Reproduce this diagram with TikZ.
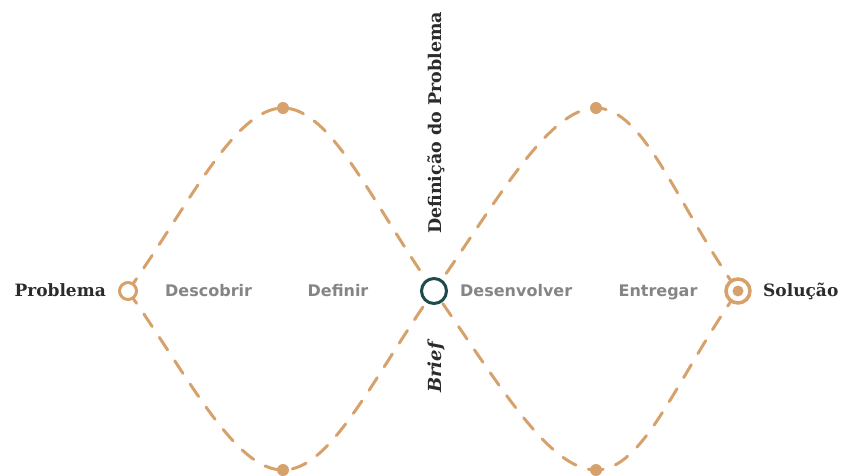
\documentclass[tikz,border=0pt]{standalone}
\usepackage{fontspec}
\setmainfont{DejaVu Serif}
\setsansfont{DejaVu Sans}
\usetikzlibrary{backgrounds}
\definecolor{ink}{HTML}{2B2B2B}
\definecolor{greytx}{HTML}{858585}
\definecolor{tan}{HTML}{D7A16B}
\definecolor{teal}{HTML}{1D4A4B}

\begin{document}
\begin{tikzpicture}[x=1pt,y=-1pt,
    path/.style={tan,line width=3pt,line cap=round,dash pattern=on 15pt off 13pt},
    phase/.style={text=greytx,inner sep=0pt,font=\sffamily\bfseries\fontsize{16}{18}\selectfont},
    ends/.style={text=ink,inner sep=0pt,font=\bfseries\fontsize{17}{19}\selectfont},
    peak/.style={circle,fill=tan,inner sep=0pt,minimum size=12pt}]
  \useasboundingbox (0,0) rectangle (851,475);

  % start, middle and end of the two diamonds
  \node[circle,draw=tan,line width=3pt,fill=white,inner sep=0pt,minimum size=17pt] (prob) at (128,291) {};
  \node[circle,draw=teal,line width=3pt,fill=white,inner sep=0pt,minimum size=25pt] (brief) at (434,291) {};
  \node[circle,draw=tan,line width=3.5pt,fill=white,inner sep=0pt,minimum size=24pt] (sol) at (738,291) {};
  \node[circle,fill=tan,inner sep=0pt,minimum size=11pt] at (sol) {};

  % tops and bottoms
  \node[peak] (topa) at (283,108) {};
  \node[peak] (bota) at (283,470) {};
  \node[peak] (topb) at (596,108) {};
  \node[peak] (botb) at (596,470) {};

  \begin{scope}[on background layer]
    \draw[path] (prob.center) .. controls +(62,-88) and +(-48,0) .. (topa.center)
                .. controls +(48,0) and +(-62,-88) .. (brief.center)
                .. controls +(62,88) and +(-48,0) .. (botb.center)
                .. controls +(48,0) and +(-62,88) .. (sol.center);
    \draw[path] (prob.center) .. controls +(62,88) and +(-48,0) .. (bota.center)
                .. controls +(48,0) and +(-62,88) .. (brief.center)
                .. controls +(62,-88) and +(-48,0) .. (topb.center)
                .. controls +(48,0) and +(-62,-88) .. (sol.center);
  \end{scope}

  \node[ends,anchor=base east] (lprob) at (106,296) {Problema};
  \node[ends,anchor=base west] (lsol) at (763,296) {Solução};

  \node[phase,anchor=base west] (disc) at (165,296) {Descobrir};
  \node[phase,anchor=base] (defi) at (338,296) {Definir};
  \node[phase,anchor=base west] (deve) at (460,296) {Desenvolver};
  \node[phase,anchor=base] (entr) at (658,296) {Entregar};

  \node[ends,rotate=90,anchor=base west,font=\bfseries\fontsize{17.5}{20}\selectfont] (defp) at (441,234) {Definição do Problema};
  \node[ends,rotate=90,anchor=base west,font=\bfseries\itshape\fontsize{18}{20}\selectfont] (lbrief) at (441,393) {Brief};
\end{tikzpicture}
\end{document}
